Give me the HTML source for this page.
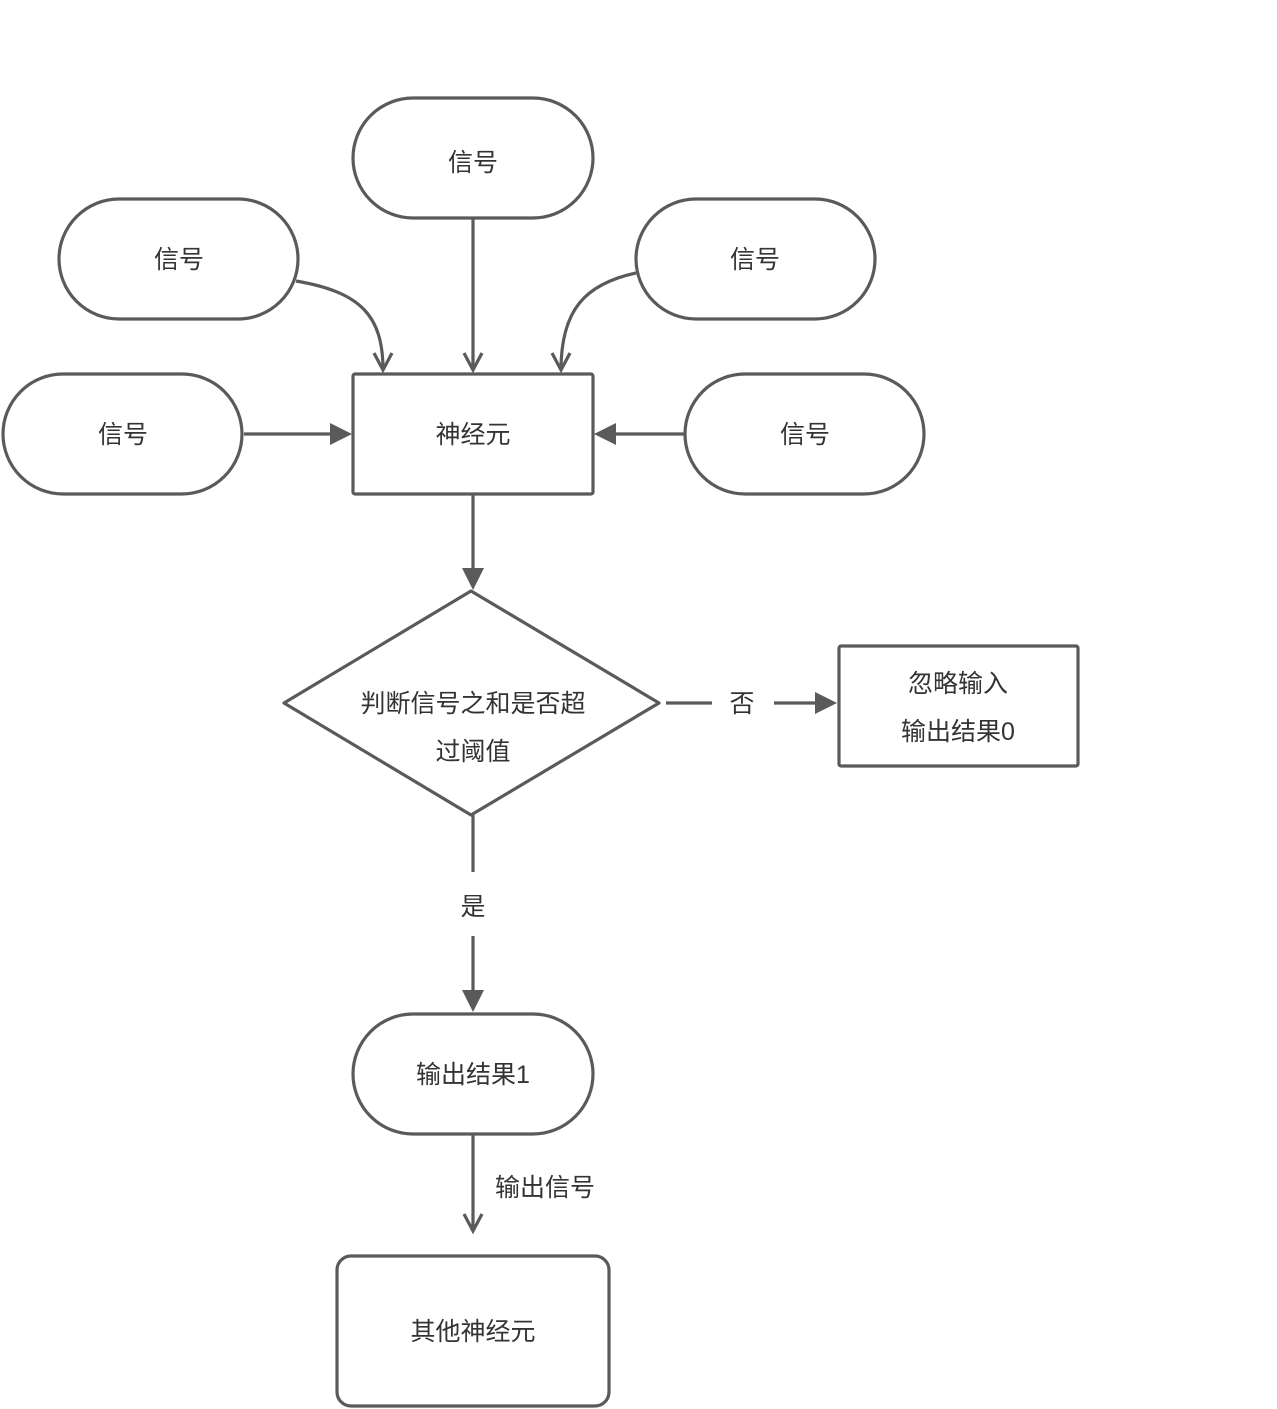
<!DOCTYPE html>
<html><head><meta charset="utf-8"><style>
html,body{margin:0;padding:0;background:#fff;}
svg{display:block;}
text{font-family:"Liberation Sans","Noto Sans CJK SC",sans-serif;font-size:25px;fill:#333;}
</style></head><body>
<svg width="1277" height="1409" viewBox="0 0 1277 1409" xmlns="http://www.w3.org/2000/svg">
<g fill="#fff" stroke="#5a5a5a" stroke-width="3.2" stroke-linejoin="round">
<rect x="353" y="98" width="240" height="120" rx="60"/>
<rect x="59" y="199" width="239" height="120" rx="60"/>
<rect x="636" y="199" width="239" height="120" rx="60"/>
<rect x="3" y="374" width="239" height="120" rx="60"/>
<rect x="685" y="374" width="239" height="120" rx="60"/>
<rect x="353" y="374" width="240" height="120" rx="2"/>
<polygon points="471,591 659,703 471,815 284,703"/>
<rect x="839" y="646" width="239" height="120" rx="2"/>
<rect x="353" y="1014" width="240" height="120" rx="60"/>
<rect x="337" y="1256" width="272" height="150" rx="14"/>
</g>
<g fill="none" stroke="#5a5a5a" stroke-width="3.2">
<line x1="473" y1="218" x2="473" y2="370"/>
<polyline points="464,353 473,370 482,353"/>
<path d="M296,281 C360,292 383,315 383,370"/>
<polyline points="374,353 383,370 392,353"/>
<path d="M636,273 C585,284 561,310 561,370"/>
<polyline points="552,353 561,370 570,353"/>
<line x1="244" y1="434" x2="335" y2="434"/>
<line x1="686" y1="434" x2="610" y2="434"/>
<line x1="473" y1="494" x2="473" y2="572"/>
<line x1="666" y1="703" x2="712" y2="703"/>
<line x1="774" y1="703" x2="818" y2="703"/>
<line x1="473" y1="815" x2="473" y2="872"/>
<line x1="473" y1="936" x2="473" y2="994"/>
<line x1="473" y1="1134" x2="473" y2="1231"/>
<polyline points="464,1214 473,1231 482,1214"/>
</g>
<g fill="#5a5a5a">
<polygon points="352,434 330,423 330,445"/>
<polygon points="594,434 616,423 616,445"/>
<polygon points="473,590 462,568 484,568"/>
<polygon points="837,703 815,692 815,714"/>
<polygon points="473,1012 462,990 484,990"/>
</g>
<g text-anchor="middle">
<text x="473" y="171">信号</text>
<text x="179" y="268">信号</text>
<text x="755" y="268">信号</text>
<text x="123" y="443">信号</text>
<text x="805" y="443">信号</text>
<text x="473" y="443">神经元</text>
<text x="473" y="712">判断信号之和是否超</text>
<text x="473" y="760">过阈值</text>
<text x="742" y="712">否</text>
<text x="958" y="692">忽略输入</text>
<text x="958" y="740">输出结果0</text>
<text x="473" y="915">是</text>
<text x="473" y="1083">输出结果1</text>
<text x="545" y="1196">输出信号</text>
<text x="473" y="1340">其他神经元</text>
</g>
</svg>
</body></html>
